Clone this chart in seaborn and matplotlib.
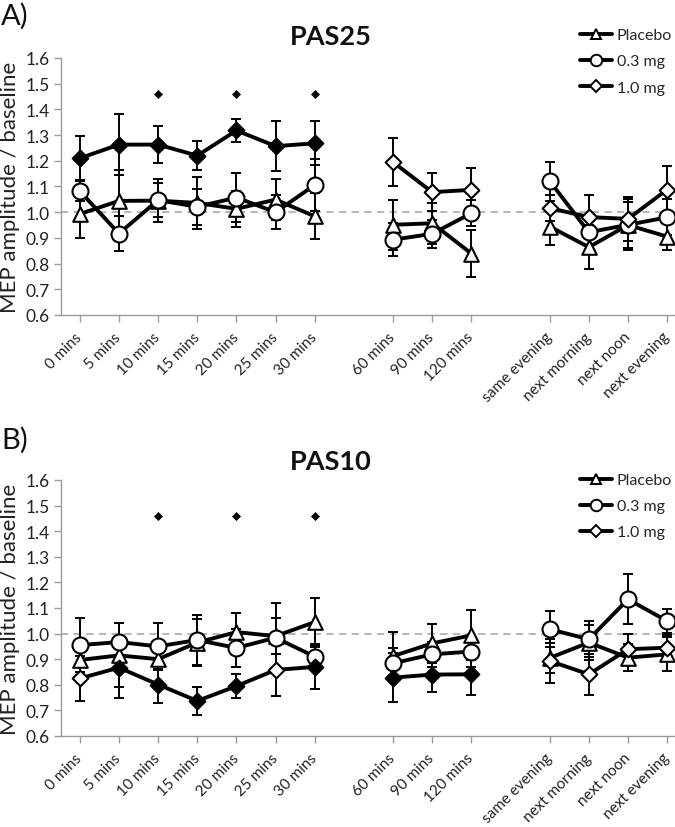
import numpy as np
import pandas as pd
import matplotlib
matplotlib.use("Agg")
import matplotlib.pyplot as plt
from matplotlib.lines import Line2D
import seaborn as sns

# ---------------- data ----------------
groups = [
    ["0 mins", "5 mins", "10 mins", "15 mins", "20 mins", "25 mins", "30 mins"],
    ["60 mins", "90 mins", "120 mins"],
    ["same evening", "next morning", "next noon", "next evening"],
]
series_names = ["Placebo", "0.3 mg", "1.0 mg"]

# Panel A: PAS25
a_placebo = [0.993, 1.044, 1.045, 1.036, 1.013, 1.049, 0.984, 0.951, 0.957, 0.839, 0.944, 0.864, 0.950, 0.905]
a_placebo_err = [0.095, 0.12, 0.085, 0.10, 0.07, 0.08, 0.09, 0.098, 0.08, 0.09, 0.07, 0.085, 0.09, 0.052]
a_mg03 = [1.082, 0.917, 1.047, 1.021, 1.057, 1.000, 1.106, 0.893, 0.916, 0.996, 1.121, 0.922, 0.951, 0.980]
a_mg03_err = [0.04, 0.068, 0.065, 0.07, 0.095, 0.065, 0.10, 0.064, 0.054, 0.05, 0.076, 0.05, 0.10, 0.07]
a_mg10 = [1.210, 1.263, 1.263, 1.220, 1.318, 1.257, 1.268, 1.195, 1.078, 1.087, 1.016, 0.981, 0.974, 1.088]
a_mg10_err = [0.086, 0.12, 0.073, 0.057, 0.045, 0.098, 0.086, 0.094, 0.074, 0.085, 0.05, 0.086, 0.085, 0.09]
a_mg10_sig = [1, 1, 1, 1, 1, 1, 1, 0, 0, 0, 0, 0, 0, 0]
a_star_idx = [2, 4, 6]

# Panel B: PAS10
b_placebo = [0.897, 0.915, 0.900, 0.965, 1.006, 0.990, 1.045, 0.912, 0.962, 0.993, 0.905, 0.965, 0.906, 0.919]
b_placebo_err = [0.06, 0.125, 0.04, 0.092, 0.076, 0.07, 0.096, 0.096, 0.077, 0.098, 0.06, 0.07, 0.054, 0.067]
b_mg03 = [0.955, 0.967, 0.950, 0.975, 0.944, 0.984, 0.910, 0.884, 0.919, 0.930, 1.017, 0.978, 1.134, 1.049]
b_mg03_err = [0.105, 0.076, 0.093, 0.096, 0.073, 0.137, 0.045, 0.06, 0.05, 0.06, 0.07, 0.071, 0.098, 0.046]
b_mg10 = [0.825, 0.867, 0.801, 0.737, 0.795, 0.858, 0.870, 0.828, 0.840, 0.841, 0.893, 0.841, 0.939, 0.945]
b_mg10_err = [0.088, 0.117, 0.073, 0.056, 0.047, 0.10, 0.088, 0.095, 0.07, 0.08, 0.087, 0.08, 0.06, 0.05]
b_mg10_sig = [0, 1, 1, 1, 1, 0, 1, 1, 1, 1, 0, 0, 0, 0]
b_star_idx = [2, 4, 6]

star_level = 1.458
y_ticks = [0.6, 0.7, 0.8, 0.9, 1.0, 1.1, 1.2, 1.3, 1.4, 1.5, 1.6]

# ---------------- style ----------------
sns.set_theme(style="white")
plt.rcParams["font.family"] = ["Lato", "DejaVu Sans"]

# category positions with an empty slot between groups
labels, positions, segments = [], [], []
pos = 0
for gi, g in enumerate(groups):
    for lab in g:
        labels.append(lab)
        positions.append(pos)
        segments.append(gi)
        pos += 1
    pos += 1
positions = np.array(positions, dtype=float)

markers = {"Placebo": "^", "0.3 mg": "o", "1.0 mg": "D"}
msizes = {"Placebo": 10.5, "0.3 mg": 11.5, "1.0 mg": 8.0}

fig = plt.figure(figsize=(6.75, 8.28), dpi=100)
ax_a = fig.add_axes([61 / 675, 1 - 316 / 828, (675 - 61) / 675, 257 / 828])
ax_b = fig.add_axes([61 / 675, 1 - 737 / 828, (675 - 61) / 675, 256 / 828])


def draw_panel(ax, vals, errs, sig10, star_idx):
    ax.axhline(1.0, color="#b0b0b0", lw=1.3, ls=(0, (4, 3)), zorder=1)
    for name in series_names:
        v = np.array(vals[name])
        e = np.array(errs[name])
        ax.errorbar(positions, v, yerr=e, fmt="none", ecolor="black",
                    elinewidth=1.4, capsize=3.5, capthick=1.4, zorder=2)
    for name in series_names:
        df = pd.DataFrame({"pos": positions, "val": vals[name], "seg": segments})
        sns.lineplot(data=df, x="pos", y="val", units="seg", estimator=None,
                     color="black", lw=2.8, ax=ax, zorder=3, legend=False)
    for name in series_names:
        df = pd.DataFrame({"pos": positions, "val": vals[name]})
        if name == "1.0 mg":
            fill = np.array(sig10, dtype=bool)
        else:
            fill = np.zeros(len(positions), dtype=bool)
        s = (msizes[name]) ** 2
        if (~fill).any():
            sns.scatterplot(data=df[~fill], x="pos", y="val", marker=markers[name],
                            s=s, color="white", edgecolor="black", linewidth=1.5,
                            ax=ax, zorder=4, legend=False)
        if fill.any():
            sns.scatterplot(data=df[fill], x="pos", y="val", marker=markers[name],
                            s=s, color="black", edgecolor="black", linewidth=1.5,
                            ax=ax, zorder=4, legend=False)
    sdf = pd.DataFrame({"pos": positions[star_idx], "val": [star_level] * len(star_idx)})
    sns.scatterplot(data=sdf, x="pos", y="val", marker="D", s=18, color="black",
                    edgecolor="black", ax=ax, zorder=4, legend=False)

    ax.set_xlim(-0.48, 15.2)
    ax.set_ylim(0.6, 1.6)
    ax.set_yticks(y_ticks)
    ax.set_yticklabels([f"{t:.1f}" for t in y_ticks], fontsize=12.5, color="#222222")
    ax.set_xticks(positions)
    ax.set_xticklabels(labels, rotation=45, ha="right", va="center",
                       rotation_mode="anchor", fontsize=11, color="#222222")
    ax.tick_params(axis="both", direction="out", length=5, width=1,
                   color="#9a9a9a", left=True, bottom=True, pad=3)
    ax.tick_params(axis="x", pad=9)
    for sp in ["top", "right"]:
        ax.spines[sp].set_visible(False)
    for sp in ["left", "bottom"]:
        ax.spines[sp].set_color("#9a9a9a")
        ax.spines[sp].set_linewidth(1.0)
    ax.set_xlabel("")
    ax.set_ylabel("MEP amplitude / baseline", fontsize=16, color="#222222", labelpad=4)


draw_panel(ax_a,
           {"Placebo": a_placebo, "0.3 mg": a_mg03, "1.0 mg": a_mg10},
           {"Placebo": a_placebo_err, "0.3 mg": a_mg03_err, "1.0 mg": a_mg10_err},
           a_mg10_sig, a_star_idx)
draw_panel(ax_b,
           {"Placebo": b_placebo, "0.3 mg": b_mg03, "1.0 mg": b_mg10},
           {"Placebo": b_placebo_err, "0.3 mg": b_mg03_err, "1.0 mg": b_mg10_err},
           b_mg10_sig, b_star_idx)

# titles and panel letters
fig.text(331 / 675, 1 - 37 / 828, "PAS25", ha="center", va="center",
         fontsize=19.5, fontweight="bold", color="#111111")
fig.text(331 / 675, 1 - 462 / 828, "PAS10", ha="center", va="center",
         fontsize=19.5, fontweight="bold", color="#111111")
fig.text(1 / 675, 1 - 16 / 828, "A)", ha="left", va="center", fontsize=21, color="#111111")
fig.text(1 / 675, 1 - 440 / 828, "B)", ha="left", va="center", fontsize=21, color="#111111")

# legends
handles = [Line2D([0], [0], color="black", lw=2.8, marker=markers[n],
                  markersize=msizes[n] * 0.72, markerfacecolor="white",
                  markeredgecolor="black", markeredgewidth=1.4)
           for n in series_names]
for ytop in (29, 474):
    fig.legend(handles, series_names, loc="upper left",
               bbox_to_anchor=(580 / 675, 1 - ytop / 828), frameon=False,
               fontsize=11.5, handlelength=2.0, handletextpad=0.3,
               labelspacing=0.75, borderaxespad=0, borderpad=0)

fig.savefig("out.png", dpi=100)
